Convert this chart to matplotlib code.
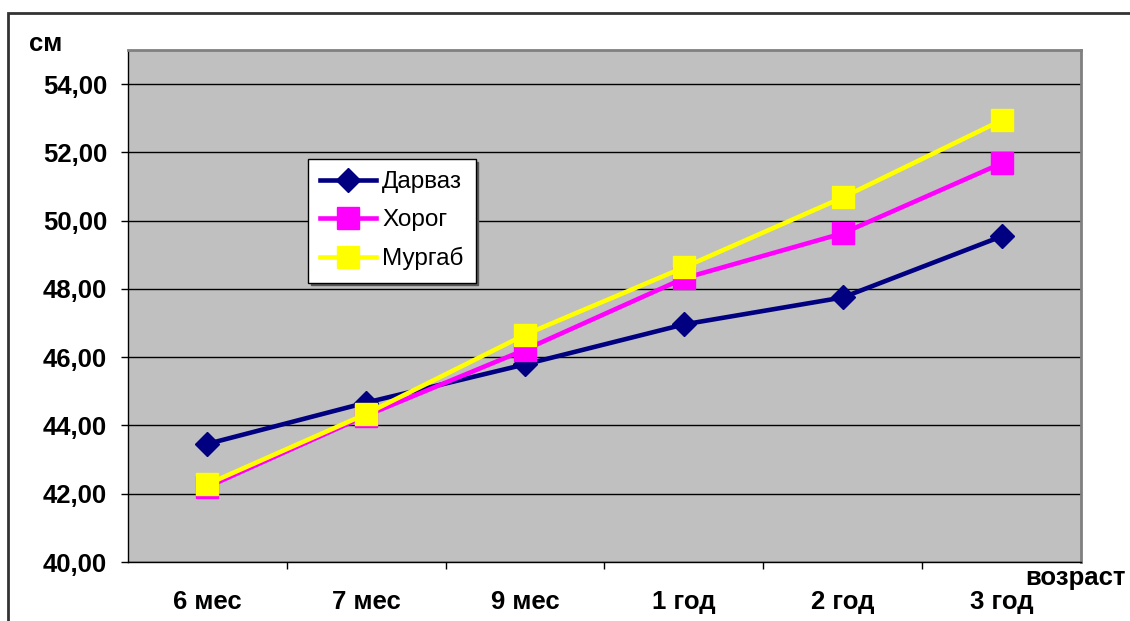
"""Рост детей по возрасту: Дарваз, Хорог, Мургаб."""

import matplotlib

matplotlib.use("Agg")

import matplotlib.pyplot as plt
from matplotlib.patches import Rectangle
from matplotlib.ticker import FixedLocator, FuncFormatter

ages = ["6 мес", "7 мес", "9 мес", "1 год", "2 год", "3 год"]

darvaz = [43.46, 44.67, 45.79, 46.96, 47.75, 49.54]
khorog = [42.20, 44.29, 46.22, 48.31, 49.63, 51.68]
murgab = [42.28, 44.34, 46.66, 48.63, 50.68, 52.94]

y_ticks = [40, 42, 44, 46, 48, 50, 52, 54]

plt.rcParams["font.family"] = ["Liberation Sans", "DejaVu Sans"]

figure = plt.figure(figsize=(11.3, 6.21), dpi=100)
axis = figure.add_axes([0.1133, 0.095, 0.8433, 0.8245])

# outer chart frame, runs past the right and bottom edges
figure.patches.append(
    Rectangle(
        (8 / 1130, -0.1),
        1.2,
        1.1 - 13 / 621,
        transform=figure.transFigure,
        fill=False,
        edgecolor="#333333",
        linewidth=2,
    )
)

axis.set_facecolor("#C0C0C0")
for spine in axis.spines.values():
    spine.set_color("#808080")
    spine.set_linewidth(2)
axis.spines["left"].set_color("black")
axis.spines["left"].set_linewidth(1)
axis.spines["bottom"].set_color("black")
axis.spines["bottom"].set_linewidth(1)

positions = list(range(len(ages)))

axis.plot(
    positions,
    darvaz,
    color="#000080",
    linewidth=3.3,
    marker="D",
    markersize=12,
    label="Дарваз",
    zorder=3,
)
axis.plot(
    positions,
    khorog,
    color="#FF00FF",
    linewidth=3.3,
    marker="s",
    markersize=16,
    label="Хорог",
    zorder=4,
)
axis.plot(
    positions,
    murgab,
    color="#FFFF00",
    linewidth=3.3,
    marker="s",
    markersize=16,
    label="Мургаб",
    zorder=5,
)

axis.set_xlim(-0.5, len(ages) - 0.5)
axis.set_ylim(40, 55)

axis.set_yticks(y_ticks)
axis.yaxis.set_major_formatter(
    FuncFormatter(lambda value, position: f"{value:.2f}".replace(".", ","))
)
axis.tick_params(
    axis="y",
    direction="out",
    length=5,
    width=1,
    pad=10,
    labelsize=18.5,
)
for label in axis.get_yticklabels():
    label.set_fontweight("bold")

axis.set_xticks(positions)
axis.set_xticklabels(ages, fontsize=18.5, fontweight="bold")
axis.tick_params(axis="x", which="major", length=0, pad=20)
axis.xaxis.set_minor_locator(
    FixedLocator([p + 0.5 for p in positions[:-1]])
)
axis.tick_params(axis="x", which="minor", direction="out", length=5, width=1)

axis.yaxis.grid(True, color="black", linewidth=1)
axis.set_axisbelow(True)

figure.text(
    29 / 1130,
    1 - 44 / 621,
    "см",
    fontsize=18.5,
    fontweight="bold",
    ha="left",
    va="center",
)
figure.text(
    1025 / 1130,
    1 - 578 / 621,
    "возраст",
    fontsize=18.5,
    fontweight="bold",
    ha="left",
    va="center",
)

legend = axis.legend(
    loc="upper left",
    bbox_to_anchor=(308 / 1130, 1 - 159 / 621),
    bbox_transform=figure.transFigure,
    fontsize=17.5,
    handlelength=2.3,
    handletextpad=0.25,
    labelspacing=0.66,
    borderpad=0.5,
    borderaxespad=0,
    fancybox=False,
    framealpha=1,
    edgecolor="black",
    shadow={"color": "#555555", "alpha": 1},
)
legend.get_frame().set_linewidth(1)

figure.savefig("out.png", dpi=100)
plt.close(figure)
